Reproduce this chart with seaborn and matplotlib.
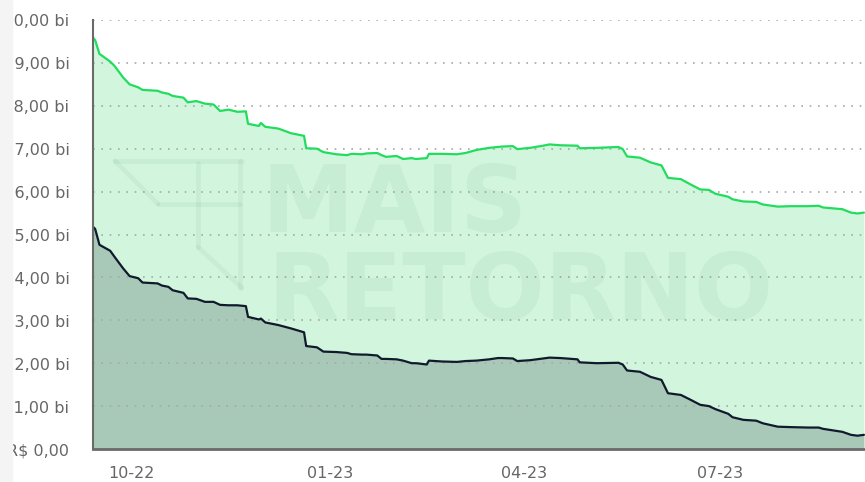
import matplotlib
matplotlib.use("Agg")
import matplotlib.pyplot as plt
import matplotlib.dates as mdates
from matplotlib.ticker import FuncFormatter, MultipleLocator
from matplotlib.lines import Line2D
from matplotlib.patches import Rectangle
import pandas as pd
import seaborn as sns

# values (R$ bi)
dates = [
    "2022-09-13", "2022-09-14", "2022-09-16", "2022-09-21", "2022-09-23", "2022-09-27",
    "2022-09-30", "2022-10-04", "2022-10-06", "2022-10-13", "2022-10-15", "2022-10-18",
    "2022-10-20", "2022-10-25", "2022-10-27", "2022-10-31", "2022-11-04", "2022-11-08",
    "2022-11-11", "2022-11-15", "2022-11-19", "2022-11-23", "2022-11-24", "2022-11-29",
    "2022-11-30", "2022-12-02", "2022-12-08", "2022-12-14", "2022-12-20", "2022-12-21",
    "2022-12-26", "2022-12-29", "2023-01-04", "2023-01-09", "2023-01-11", "2023-01-16",
    "2023-01-18", "2023-01-23", "2023-01-25", "2023-01-27", "2023-02-01", "2023-02-04",
    "2023-02-08", "2023-02-10", "2023-02-15", "2023-02-16", "2023-02-22", "2023-03-01",
    "2023-03-05", "2023-03-10", "2023-03-16", "2023-03-20", "2023-03-22", "2023-03-27",
    "2023-03-29", "2023-04-04", "2023-04-10", "2023-04-13", "2023-04-18", "2023-04-26",
    "2023-04-27", "2023-05-05", "2023-05-15", "2023-05-17", "2023-05-19", "2023-05-25",
    "2023-05-30", "2023-06-04", "2023-06-07", "2023-06-13", "2023-06-17", "2023-06-22",
    "2023-06-26", "2023-06-29", "2023-07-05", "2023-07-07", "2023-07-12", "2023-07-18",
    "2023-07-21", "2023-07-28", "2023-08-03", "2023-08-11", "2023-08-16", "2023-08-18",
    "2023-08-27", "2023-08-31", "2023-09-03", "2023-09-06",
]
total_bi = [
    9.59, 9.53, 9.21, 9.03, 8.93, 8.66,
    8.50, 8.43, 8.37, 8.35, 8.31, 8.28,
    8.23, 8.19, 8.08, 8.11, 8.05, 8.03,
    7.88, 7.91, 7.86, 7.87, 7.58, 7.53,
    7.60, 7.51, 7.47, 7.36, 7.30, 7.01,
    7.00, 6.92, 6.87, 6.85, 6.88, 6.87,
    6.89, 6.90, 6.85, 6.81, 6.83, 6.76,
    6.78, 6.76, 6.78, 6.88, 6.88, 6.87,
    6.90, 6.97, 7.02, 7.04, 7.05, 7.06,
    6.99, 7.02, 7.07, 7.10, 7.08, 7.07,
    7.01, 7.02, 7.04, 6.99, 6.82, 6.79,
    6.68, 6.61, 6.32, 6.29, 6.18, 6.05,
    6.04, 5.95, 5.88, 5.82, 5.77, 5.76,
    5.70, 5.65, 5.66, 5.66, 5.67, 5.63,
    5.59, 5.51, 5.49, 5.51,
]
part_bi = [
    5.18, 5.13, 4.76, 4.62, 4.48, 4.21,
    4.03, 3.98, 3.88, 3.86, 3.81, 3.78,
    3.70, 3.64, 3.51, 3.50, 3.43, 3.43,
    3.36, 3.35, 3.35, 3.33, 3.08, 3.02,
    3.04, 2.95, 2.89, 2.81, 2.72, 2.40,
    2.37, 2.27, 2.26, 2.24, 2.21, 2.20,
    2.20, 2.18, 2.10, 2.10, 2.09, 2.06,
    2.00, 2.00, 1.97, 2.06, 2.04, 2.03,
    2.05, 2.06, 2.09, 2.12, 2.12, 2.11,
    2.05, 2.07, 2.11, 2.13, 2.12, 2.09,
    2.02, 2.00, 2.01, 1.97, 1.83, 1.80,
    1.68, 1.61, 1.30, 1.26, 1.16, 1.03,
    1.00, 0.93, 0.82, 0.74, 0.68, 0.66,
    0.60, 0.52, 0.51, 0.50, 0.50, 0.47,
    0.40, 0.33, 0.31, 0.33,
]
tick_dates = ["2022-10-01", "2023-01-01", "2023-04-01", "2023-07-01"]

df = pd.DataFrame({"date": pd.to_datetime(dates), "total": total_bi, "part": part_bi})

sns.set_style("white")
plt.rcParams["font.family"] = ["DejaVu Sans"]

W, H = 865, 482
fig = plt.figure(figsize=(W / 100, H / 100), dpi=100)
ax = fig.add_axes([93 / W, 1 - 449 / H, 1 - 93 / W, (449 - 20) / H])

# fills
ax.fill_between(df["date"], 0, df["total"], color="#d1f6dd", lw=0, zorder=1)
ax.fill_between(df["date"], 0, df["part"], color="#a8c9b8", lw=0, zorder=1.1)

# lines
sns.lineplot(data=df, x="date", y="total", ax=ax, color="#22dc5e", lw=1.6, zorder=3)
sns.lineplot(data=df, x="date", y="part", ax=ax, color="#111a2c", lw=1.6, zorder=3)

# watermark
wm_col = "#3c785a"
wm_alpha = 0.065


def px(x, y):
    return x / W, 1 - y / H


logo = [
    [(115, 161), (242, 161)],
    [(115, 161), (158, 204)],
    [(158, 204), (240, 204)],
    [(198, 163), (198, 247)],
    [(198, 247), (242, 288)],
    [(240, 161), (240, 288)],
]
for seg in logo:
    (x0, y0), (x1, y1) = seg
    a, b = px(x0, y0)
    c, d = px(x1, y1)
    fig.add_artist(Line2D([a, c], [b, d], transform=fig.transFigure,
                          color=wm_col, alpha=wm_alpha, lw=3.4, zorder=2))
fig.text(*px(262, 232), "MAIS", fontsize=67, fontweight="bold",
         color=wm_col, alpha=wm_alpha, ha="left", va="baseline", zorder=2)
fig.text(*px(268, 320), "RETORNO", fontsize=67, fontweight="bold",
         color=wm_col, alpha=wm_alpha, ha="left", va="baseline", zorder=2)

# axes
ax.set_ylim(0, 10)
ax.set_xlim(df["date"].iloc[0], df["date"].iloc[-1] + pd.Timedelta(hours=12))
ax.yaxis.set_major_locator(MultipleLocator(1))
ax.yaxis.set_major_formatter(FuncFormatter(
    lambda v, p: "R$ 0,00" if v == 0 else f"R$ {int(v)},00 bi"))
ax.set_xticks(pd.to_datetime(tick_dates))
ax.xaxis.set_major_formatter(mdates.DateFormatter("%m-%y"))
ax.set_xlabel("")
ax.set_ylabel("")

ax.set_axisbelow(False)
ax.yaxis.grid(True, linestyle=(0, (1, 4)), color="#a8a8a8", lw=1.2)
ax.xaxis.grid(False)
for s in ["top", "right"]:
    ax.spines[s].set_visible(False)
ax.spines["left"].set_color("#6a6a6a")
ax.spines["left"].set_linewidth(1.5)
ax.spines["bottom"].set_color("#6a6a6a")
ax.spines["bottom"].set_linewidth(2)
ax.spines["left"].set_zorder(4)
ax.spines["bottom"].set_zorder(4)

ax.tick_params(axis="y", length=0, pad=17, labelsize=11.5, labelcolor="#666666")
ax.tick_params(axis="x", length=7.5, width=1, color="#ccd6eb", direction="out",
               pad=5, labelsize=11.5, labelcolor="#666666")

# the left edge of the picture is covered by a faint strip that hides the
# start of the y labels
fig.add_artist(Rectangle((0, 0), 12 / W, 1, transform=fig.transFigure,
                         color="#f4f4f4", zorder=10))

fig.savefig("out.png", dpi=100)
